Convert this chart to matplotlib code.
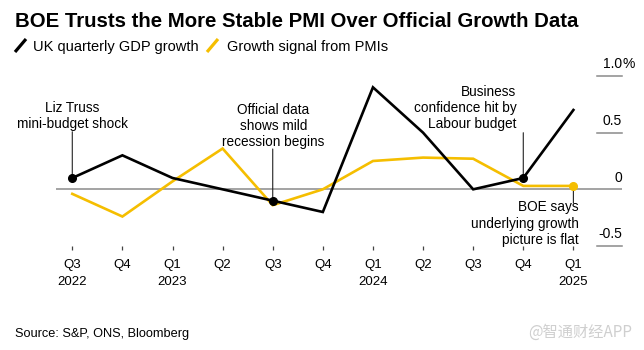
import matplotlib
matplotlib.use("Agg")
import matplotlib.pyplot as plt
from matplotlib.lines import Line2D

plt.rcParams['font.family'] = ['Liberation Sans', 'DejaVu Sans']

quarters = ["Q3", "Q4", "Q1", "Q2", "Q3", "Q4", "Q1", "Q2", "Q3", "Q4", "Q1"]
years = ["2022", "", "2023", "", "", "", "2024", "", "", "", "2025"]
gdp = [0.1, 0.3, 0.1, 0.0, -0.1, -0.2, 0.9, 0.5, 0.0, 0.1, 0.7]
pmi = [-0.04, -0.24, 0.07, 0.36, -0.14, 0.0, 0.25, 0.28, 0.27, 0.03, 0.03]
yticks = [-0.5, 0, 0.5, 1.0]
ytick_labels = ["-0.5", "0", "0.5", "1.0"]

notes = [
    ("Liz Truss\nmini-budget shock", gdp, 0),
    ("Official data\nshows mild\nrecession begins", gdp, 4),
    ("Business\nconfidence hit by\nLabour budget", gdp, 9),
    ("BOE says\nunderlying growth\npicture is flat", pmi, 10),
]
# text offset of the last line's baseline (pt), alignment, leader end (pt)
note_layout = [
    ((0, 35.8), "center", 33.3),
    ((0.4, 39.4), "center", 37.2),
    ((-4.8, 35.8), "right", 32.6),
    ((3.6, -41.7), "right", -12.3),
]

BLACK = "#000000"
YELLOW = "#f5be00"
GREY = "#8a8a8a"

W, H = 644, 350
fig = plt.figure(figsize=(W / 100, H / 100), dpi=100)
ax = fig.add_axes([56 / W, 1 - 246 / H, 566 / W, 186 / H])

x = list(range(len(quarters)))
ax.plot(x, pmi, color=YELLOW, lw=1.9, zorder=3, solid_joinstyle="miter")
ax.plot(x, gdp, color=BLACK, lw=1.9, zorder=4, solid_joinstyle="miter")

ax.set_xlim(-0.325, 10.97)
ax.set_ylim(-0.5, 1.141)

# zero line and short gridlines on the right
ax.axhline(0, color=GREY, lw=1.1, zorder=1)
for yv, lab in zip(yticks, ytick_labels):
    if yv != 0:
        ax.axhline(yv, xmin=0.956, xmax=1.0, color=GREY, lw=1.1, zorder=1,
                   clip_on=False)
    ax.annotate(lab, xy=(1.0, yv), xycoords=("axes fraction", "data"),
                xytext=(0, 5.5), textcoords="offset points",
                ha="right", va="baseline", fontsize=10)
ax.annotate("%", xy=(1.0, yticks[-1]), xycoords=("axes fraction", "data"),
            xytext=(0.6, 5.5), textcoords="offset points",
            ha="left", va="baseline", fontsize=10)

# annotations with leader lines
for (txt, series, i), (off, ha, lead) in zip(notes, note_layout):
    ax.annotate("", xy=(i, series[i]), xytext=(0, lead),
                textcoords="offset points",
                arrowprops=dict(arrowstyle="-", color="#222222", lw=0.8,
                                shrinkA=0, shrinkB=0), zorder=2)
    ax.annotate(txt, xy=(i, series[i]), xytext=off, textcoords="offset points",
                ha=ha, va="baseline", fontsize=9.8, linespacing=1.2,
                multialignment=ha, zorder=6)
    col = YELLOW if series is pmi else BLACK
    ax.plot([i], [series[i]], "o", color=col, ms=5.5, zorder=5)

ax.set_xticks(x)
ax.set_xticklabels([q + "\n" + y if y else q for q, y in zip(quarters, years)],
                   fontsize=9.5, linespacing=1.55)
ax.tick_params(axis="x", length=3, width=0.9, color="#444444", pad=6.5)
ax.tick_params(axis="y", left=False, labelleft=False)
for s in ax.spines.values():
    s.set_visible(False)

# title, legend, source
fig.text(15 / W, 1 - 26.7 / H, "BOE Trusts the More Stable PMI Over Official Growth Data",
         fontsize=14.7, fontweight="bold", va="baseline", ha="left")

def slash(x0, color):
    fig.add_artist(Line2D([x0 / W, (x0 + 11) / W], [1 - 52 / H, 1 - 39 / H],
                          color=color, lw=2.3, solid_capstyle="butt"))

slash(15, BLACK)
fig.text(33 / W, 1 - 51.5 / H, "UK quarterly GDP growth", fontsize=10.5, va="baseline")
slash(207, YELLOW)
fig.text(227 / W, 1 - 51.5 / H, "Growth signal from PMIs", fontsize=10.5, va="baseline")

fig.text(15 / W, 1 - 336.5 / H, "Source: S&P, ONS, Bloomberg", fontsize=9.2, va="baseline")
fig.text(632 / W, 1 - 337 / H, "@智通财经APP", fontsize=11, color="#cfcfcf",
         ha="right", va="baseline", family=["Noto Sans CJK SC", "DejaVu Sans"])

fig.savefig("out.png", dpi=100)
